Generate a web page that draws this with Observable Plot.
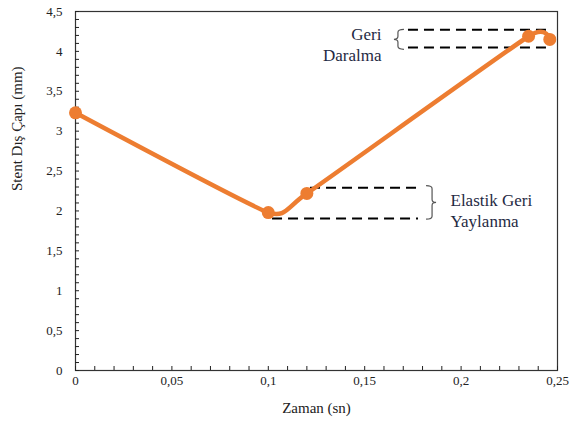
<!DOCTYPE html>
<html>
<head>
<meta charset="utf-8">
<script src="https://cdn.jsdelivr.net/npm/d3@7"></script>
<script src="https://cdn.jsdelivr.net/npm/@observablehq/plot@0.6"></script>
<style>
  html, body { margin: 0; padding: 0; background: #fff; }
</style>
</head>
<body>
<div id="chart"></div>
<script>
// ---- data ----
const time = [0, 0.1, 0.12, 0.235, 0.246];
const diameter = [3.23, 1.98, 2.22, 4.19, 4.15];

const xTicks = [0, 0.05, 0.1, 0.15, 0.2, 0.25];
const yTicks = [0, 0.5, 1, 1.5, 2, 2.5, 3, 3.5, 4, 4.5];

const xLabel = "Zaman (sn)";
const yLabel = "Stent Dış Çapı (mm)";

// annotation dashed levels
const dashY = [2.29, 1.905, 4.27, 4.05];
const dashX1 = [0.1219, 0.1022, 0.1727, 0.1727];
const dashX2 = [0.1779, 0.1779, 0.2474, 0.2474];

// braces
const braceX = [0.1852, 0.1675];
const braceY1 = [2.31, 4.27];
const braceY2 = [1.89, 4.02];
const braceDir = [1, -1];

// annotation texts
const noteText = ["Elastik Geri\nYaylanma", "Geri\nDaralma"];
const noteX = [0.1945, 0.1587];
const noteY = [2.02, 4.09];
const noteAnchor = ["start", "end"];

// ---- build ----
const series = time.map((t, i) => ({t, d: diameter[i]}));
const dashes = dashY.map((y, i) => ({y, x1: dashX1[i], x2: dashX2[i]}));
const notes = noteText.map((text, i) => ({text, x: noteX[i], y: noteY[i], anchor: noteAnchor[i]}));
const xMinor = d3.range(0, 26).map(i => i / 100);
const yMinor = d3.range(0, 46).map(i => i / 10);
const fmt = d => String(d).replace(".", ",");

const font = "Liberation Serif";
const noteColor = "#1f2a44";

const plot = Plot.plot({
  width: 571,
  height: 430,
  marginLeft: 75,
  marginRight: 14,
  marginTop: 11,
  marginBottom: 60,
  style: {fontFamily: font, fontSize: "13px", color: "#222", background: "#fff"},
  x: {domain: [0, 0.25]},
  y: {domain: [0, 4.5]},
  marks: [
    Plot.frame({stroke: "#333", strokeWidth: 1.2}),
    Plot.axisX(xMinor, {tickSize: -4, tickFormat: () => "", label: null, stroke: "#222"}),
    Plot.axisY(yMinor, {tickSize: -4, tickFormat: () => "", label: null, stroke: "#222"}),
    Plot.axisX(xTicks, {tickSize: 0, tickPadding: 5, tickFormat: fmt, label: null, fontSize: 13, fontFamily: font, fill: "#222"}),
    Plot.axisY(yTicks, {tickSize: 0, tickPadding: 13, tickFormat: fmt, label: null, fontSize: 13, fontFamily: font, fill: "#222"}),
    Plot.text([xLabel], {frameAnchor: "bottom", dy: 38, fontSize: 15, fontFamily: font, fill: "#222", lineAnchor: "middle"}),
    Plot.text([yLabel], {frameAnchor: "left", dx: -58, rotate: -90, fontSize: 15, fontFamily: font, fill: "#222", lineAnchor: "middle"}),
    Plot.ruleY(dashes, {y: "y", x1: "x1", x2: "x2", stroke: "#000", strokeWidth: 2, strokeDasharray: "10,6"}),
    Plot.line(series, {x: "t", y: "d", stroke: "#ED7D31", strokeWidth: 4.5, curve: "cardinal", tension: 0.55}),
    Plot.dot(series, {x: "t", y: "d", r: 6.5, fill: "#ED7D31", stroke: "none"}),
    Plot.text(notes.filter(n => n.anchor === "start"), {x: "x", y: "y", text: "text", textAnchor: "start", lineAnchor: "middle", lineHeight: 1.24, fontSize: 17, fontFamily: font, fill: noteColor}),
    Plot.text(notes.filter(n => n.anchor === "end"), {x: "x", y: "y", text: "text", textAnchor: "end", lineAnchor: "middle", lineHeight: 1.24, fontSize: 17, fontFamily: font, fill: noteColor})
  ]
});

// braces drawn through the plot's own scales
const sx = plot.scale("x"), sy = plot.scale("y");
const svg = d3.select(plot);
braceX.forEach((bx, i) => {
  const x0 = sx.apply(bx), y1 = sy.apply(braceY1[i]), y2 = sy.apply(braceY2[i]);
  const ym = (y1 + y2) / 2, s = braceDir[i], w = 6 * s, p = 4 * s, r = 3;
  const path = `M${x0 - w},${y1} Q${x0},${y1} ${x0},${y1 + r} L${x0},${ym - r} Q${x0},${ym} ${x0 + p},${ym} Q${x0},${ym} ${x0},${ym + r} L${x0},${y2 - r} Q${x0},${y2} ${x0 - w},${y2}`;
  svg.append("path").attr("d", path).attr("fill", "none").attr("stroke", "#555").attr("stroke-width", 1.2);
});

document.getElementById("chart").appendChild(plot);
</script>
</body>
</html>
